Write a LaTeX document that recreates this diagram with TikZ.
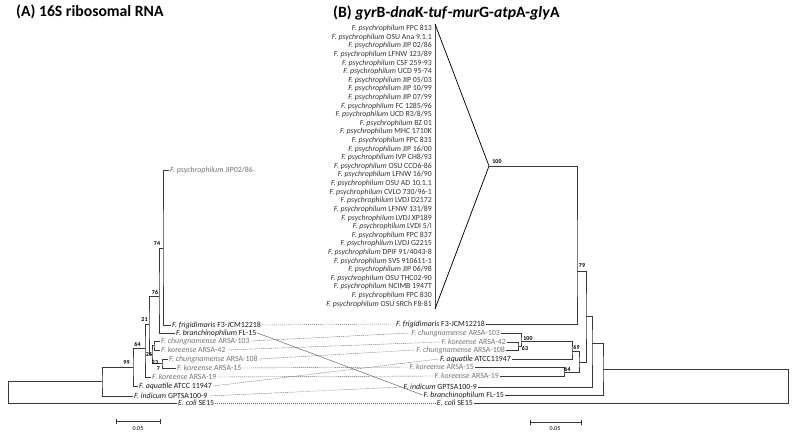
\documentclass[tikz,border=0pt]{standalone}
\usepackage{fontspec}
\setmainfont{Carlito}
\begin{document}
\begin{tikzpicture}[x=1pt,y=-1pt,
  lf/.style={font=\fontsize{7.9}{8.5}\selectfont, inner sep=1pt, text=black!90},
  lfg/.style={lf, text=black!55},
  br/.style={draw=black!78, line width=0.75pt},
  bs/.style={font=\fontsize{6}{6.5}\selectfont\bfseries, inner sep=0pt},
  lk/.style={draw=black!60, line width=0.4pt, dash pattern=on 1.2pt off 0.8pt},
  ps/.style={font=\fontsize{7.8}{8.2}\selectfont, inner sep=0pt, anchor=east, text=black!80},
  ttl/.style={font=\fontsize{15.7}{17}\selectfont\bfseries, inner sep=0pt, anchor=west}]
\useasboundingbox (0,0) rectangle (797,436);

% titles
\node[ttl] (tA) at (16,12) {(A) 16S ribosomal RNA};
\node[ttl] (tB) at (333,12.5) {(B) \textit{gyr}B-\textit{dna}K-\textit{tuf}-\textit{mur}G-\textit{atp}A-\textit{gly}A};

% ---------- left tree leaves
\node[lfg, anchor=west] (Ljip)   at (169,170) {\textit{F. psychrophilum} JIP02/86};
\node[lf,  anchor=west] (Lfrig)  at (171,325) {\textit{F. frigidimaris} F3-JCM12218};
\node[lf,  anchor=west] (Lbran)  at (175,333) {\textit{F. branchinophilum} FL-15};
\node[lfg, anchor=west] (Lch103) at (160,341) {\textit{F. chungnamense} ARSA-103};
\node[lfg, anchor=west] (Lko42)  at (160,350) {\textit{F. koreense} ARSA-42};
\node[lfg, anchor=west] (Lch108) at (168,359) {\textit{F. chungnamense} ARSA-108};
\node[lfg, anchor=west] (Lko15)  at (176,368) {\textit{F. koreense} ARSA-15};
\node[lfg, anchor=west] (Lko19)  at (151,377) {\textit{F. koreense} ARSA-19};
\node[lf,  anchor=west] (Laq)    at (138,386) {\textit{F. aquatile} ATCC 11947};
\node[lf,  anchor=west] (Lind)   at (133,396) {\textit{F. indicum} GPTSA100-9};
\node[lf,  anchor=west] (Leco)   at (177,403) {\textit{E. coli} SE15};

% left internal nodes
\coordinate (P)   at (163,248);
\coordinate (Q)   at (159,296);
\coordinate (S)   at (154,345.5);
\coordinate (T)   at (162,363.5);
\coordinate (U)   at (152,354);
\coordinate (R)   at (149,324);
\coordinate (N21) at (145,348);
\coordinate (N64) at (133,367);
\coordinate (N99) at (102,381);
\coordinate (N0)  at (8,381);

\draw[br] (Ljip.west) -| (P) |- (Lfrig.west);
\draw[br] (P) -| (Q) |- (Lbran.west);
\draw[br] (Lch103.west) -| (S) |- (Lko42.west);
\draw[br] (Lch108.west) -| (T) |- (Lko15.west);
\draw[br] (S) -| (U) |- (T);
\draw[br] (Q) -| (R) |- (U);
\draw[br] (R) -| (N21) |- (Lko19.west);
\draw[br] (N21) -| (N64) |- (Laq.west);
\draw[br] (N64) -| (N99) |- (Lind.west);
\draw[br] (N99) -| (N0) |- (Leco.west);

% left bootstrap values
\node[bs] (bl74) at (157,244) {74};
\node[bs] (bl76) at (155,292) {76};
\node[bs] (bl21) at (144.5,320) {21};
\node[bs] (bl64) at (137.5,344.5) {64};
\node[bs] (bl99) at (126.5,363) {99};
\node[bs] (bl25) at (149,355) {25};
\node[bs] (bl23) at (155,363) {23};
\node[bs] (bl7)  at (158.5,369) {7};

% left scale bar
\coordinate (sl1) at (116,421);
\coordinate (sl2) at (160,421);
\draw[br] (sl1) -- (sl2);
\draw[br] ([yshift=-2.5pt]sl1) -- ([yshift=2.5pt]sl1);
\draw[br] ([yshift=-2.5pt]sl2) -- ([yshift=2.5pt]sl2);
\node[bs, font=\fontsize{6}{6.5}\selectfont] (sll) at (138,429) {0.05};

% ---------- right panel: psychrophilum list
\foreach \s [count=\k from 0] in {FPC 813,OSU Ana 9.1.1,JIP 02/86,LFNW 123/89,CSF 259-93,UCD 95-74,JIP 05/03,JIP 10/99,JIP 07/99,FC 1285/96,UCD R3/8/95,BZ 01,MHC 1710K,FPC 831,JIP 16/00,IVP CH8/93,OSU CCO6-86,LFNW 16/90,OSU AD 10.1.1,CVLO 730/96-1,LVDJ D2172,LFNW 131/89,LVDJ XP189,LVDI 5/I,FPC 837,LVDJ G2215,DPIF 91/4043-8,SVS 910611-1,JIP 06/98,OSU THC02-90,NCIMB 1947T,FPC 830,OSU SRCh F8-81}
  {\node[ps] (p\k) at (432,{28.5+8.61*\k}) {\textit{F. psychrophilum} \s};}

\coordinate (brT) at (435,24);
\coordinate (brB) at (435,309);
\coordinate (apex) at (489,166);
\draw[draw=black!70, line width=0.5pt] (brT) -- (brB);
\draw[br, draw=black] (brT) -- (apex) -- (brB);

% right leaves
\node[lf,  anchor=east] (Rfrig)  at (486,324) {\textit{F. frigidimaris} F3-JCM12218};
\node[lfg, anchor=east] (Rch103) at (501,333) {\textit{F. chungnamense} ARSA-103};
\node[lfg, anchor=east] (Rko42)  at (507,342) {\textit{F. koreense} ARSA-42};
\node[lfg, anchor=east] (Rch108) at (506,350) {\textit{F. chungnamense} ARSA-108};
\node[lf,  anchor=east] (Raq)    at (512,359) {\textit{F. aquatile} ATCC11947};
\node[lfg, anchor=east] (Rko15)  at (475,367) {\textit{F. koreense} ARSA-15};
\node[lfg, anchor=east] (Rko19)  at (500,376) {\textit{F. koreense} ARSA-19};
\node[lf,  anchor=east] (Rind)   at (478,387) {\textit{F. indicum} GPTSA100-9};
\node[lf,  anchor=east] (Rbran)  at (505,395) {\textit{F. branchinophilum} FL-15};
\node[lf,  anchor=east] (Reco)   at (474,403) {\textit{E. coli} SE15};

% right internal nodes
\coordinate (a)  at (577,271);
\coordinate (g)  at (518,346);
\coordinate (f)  at (521,341);
\coordinate (d)  at (572,351);
\coordinate (e)  at (564,372);
\coordinate (c)  at (579,362);
\coordinate (b)  at (586,316);
\coordinate (h)  at (592,343);
\coordinate (i)  at (603,369);
\coordinate (r0) at (788,369);

\draw[br] (apex) -| (a) |- (Rfrig.east);
\draw[br] (Rko42.east) -| (g) |- (Rch108.east);
\draw[br] (Rch103.east) -| (f) |- (g);
\draw[br] (f) -| (d) |- (Raq.east);
\draw[br] (Rko15.east) -| (e) |- (Rko19.east);
\draw[br] (d) -| (c) |- (e);
\draw[br] (a) -| (b) |- (c);
\draw[br] (b) -| (h) |- (Rind.east);
\draw[br] (h) -| (i) |- (Rbran.east);
\draw[br] (i) -| (r0) |- (Reco.east);

% right bootstrap values
\node[bs] (br100a) at (497,162) {100};
\node[bs] (br79)   at (582,266) {79};
\node[bs] (br100b) at (528,338.5) {100};
\node[bs] (br63)   at (525,348.5) {63};
\node[bs] (br69)   at (576.5,347.5) {69};
\node[bs] (br64)   at (567.5,369) {64};

% right scale bar
\coordinate (sr1) at (530,422);
\coordinate (sr2) at (581,422);
\draw[br] (sr1) -- (sr2);
\draw[br] ([yshift=-2.5pt]sr1) -- ([yshift=2.5pt]sr1);
\draw[br] ([yshift=-2.5pt]sr2) -- ([yshift=2.5pt]sr2);
\node[bs, font=\fontsize{6}{6.5}\selectfont] (srl) at (555,428.5) {0.05};

% links between the two trees
\draw[lk] (Lfrig.east) -- (Rfrig.west);
\draw[lk] (Lch103.east) -- (Rch103.west);
\draw[lk] (Lko42.east) -- (Rko42.west);
\draw[lk] (Lch108.east) -- (Rch108.west);
\draw[lk] (Lko15.east) -- (Rko15.west);
\draw[lk] (Lko19.east) -- (Rko19.west);
\draw[lk] (Laq.east) -- (Raq.west);
\draw[lk] (Lind.east) -- (Rind.west);
\draw[draw=black!65, line width=0.45pt] (Lbran.east) -- (Rbran.west);
\draw[lk] (Leco.east) -- (Reco.west);
\end{tikzpicture}
\end{document}
